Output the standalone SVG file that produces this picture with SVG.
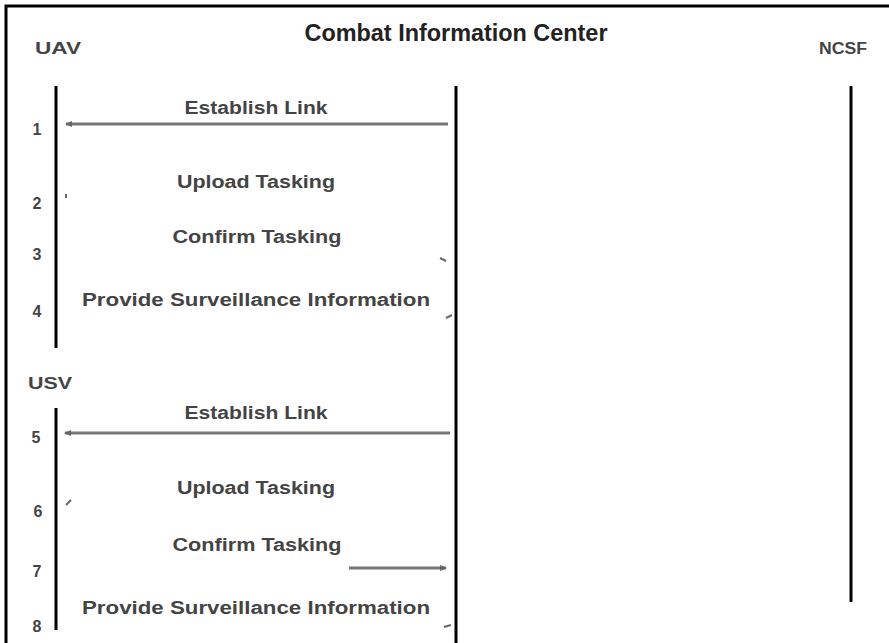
<svg xmlns="http://www.w3.org/2000/svg" width="889" height="643" viewBox="0 0 889 643">
<style>
.frame{fill:none;stroke:#000;stroke-width:3}
.life{stroke:#000;stroke-width:3;fill:none}
.title{font-family:"Liberation Sans",Arial,sans-serif;font-weight:bold;fill:#222}
.msg{font-family:"Liberation Sans",Arial,sans-serif;font-weight:bold;font-size:18px;fill:#444;text-anchor:middle}
.num{font-family:"Liberation Sans",Arial,sans-serif;font-weight:bold;font-size:16px;fill:#444;text-anchor:middle}
.arr{stroke:#777;stroke-width:3;fill:none}
.tick{stroke:#666;stroke-width:2;fill:none}
</style>
<defs>
<marker id="ah" markerWidth="8" markerHeight="8" refX="6" refY="4" orient="auto" markerUnits="userSpaceOnUse">
<path d="M0,1 L7,4 L0,7 z" fill="#666"/>
</marker>
</defs>
<rect width="889" height="643" fill="#fff"/>
<rect class="frame" x="6" y="6" width="900" height="700"/>

<g id="cic">
<text class="title" x="456" y="41" font-size="23" text-anchor="middle" textLength="303" lengthAdjust="spacingAndGlyphs">Combat Information Center</text>
<line class="life" x1="456" y1="86" x2="456" y2="650"/>
</g>
<g id="uav">
<text class="title" x="58" y="54" font-size="16" text-anchor="middle" textLength="46" lengthAdjust="spacingAndGlyphs" style="fill:#444">UAV</text>
<line class="life" x1="56" y1="86" x2="56" y2="348"/>
</g>
<g id="ncsf">
<text class="title" x="843" y="54" font-size="16" text-anchor="middle" textLength="48" lengthAdjust="spacingAndGlyphs" style="fill:#444">NCSF</text>
<line class="life" x1="851" y1="86" x2="851" y2="602"/>
</g>
<g id="usv">
<text class="title" x="50" y="389" font-size="16" text-anchor="middle" textLength="44" lengthAdjust="spacingAndGlyphs" style="fill:#444">USV</text>
<line class="life" x1="56" y1="408" x2="56" y2="630"/>
</g>

<g id="numbers">
<text class="num" x="37" y="135">1</text>
<text class="num" x="37" y="209">2</text>
<text class="num" x="37" y="260">3</text>
<text class="num" x="37" y="317">4</text>
<text class="num" x="36" y="443">5</text>
<text class="num" x="38" y="517">6</text>
<text class="num" x="37" y="577">7</text>
<text class="num" x="37" y="632">8</text>
</g>

<g id="labels">
<text class="msg" x="256" y="114" textLength="143" lengthAdjust="spacingAndGlyphs">Establish Link</text>
<text class="msg" x="256" y="188" textLength="158" lengthAdjust="spacingAndGlyphs">Upload Tasking</text>
<text class="msg" x="257" y="243" textLength="169" lengthAdjust="spacingAndGlyphs">Confirm Tasking</text>
<text class="msg" x="256" y="306" textLength="348" lengthAdjust="spacingAndGlyphs">Provide Surveillance Information</text>
<text class="msg" x="256" y="419" textLength="143" lengthAdjust="spacingAndGlyphs">Establish Link</text>
<text class="msg" x="256" y="494" textLength="158" lengthAdjust="spacingAndGlyphs">Upload Tasking</text>
<text class="msg" x="257" y="551" textLength="169" lengthAdjust="spacingAndGlyphs">Confirm Tasking</text>
<text class="msg" x="256" y="614" textLength="348" lengthAdjust="spacingAndGlyphs">Provide Surveillance Information</text>
</g>

<g id="connectors">
<line class="arr" x1="448" y1="124" x2="66" y2="124" marker-end="url(#ah)"/>
<line class="arr" x1="450" y1="433" x2="65" y2="433" marker-end="url(#ah)"/>
<line class="arr" x1="349" y1="568" x2="446" y2="568" marker-end="url(#ah)"/>
<path class="tick" d="M66,194 L66,198"/>
<path class="tick" d="M440,258 L446,261"/>
<path class="tick" d="M446,318 L452,315"/>
<path class="tick" d="M66,505 L71,500"/>
<path class="tick" d="M444,627 L451,625"/>
</g>
</svg>
